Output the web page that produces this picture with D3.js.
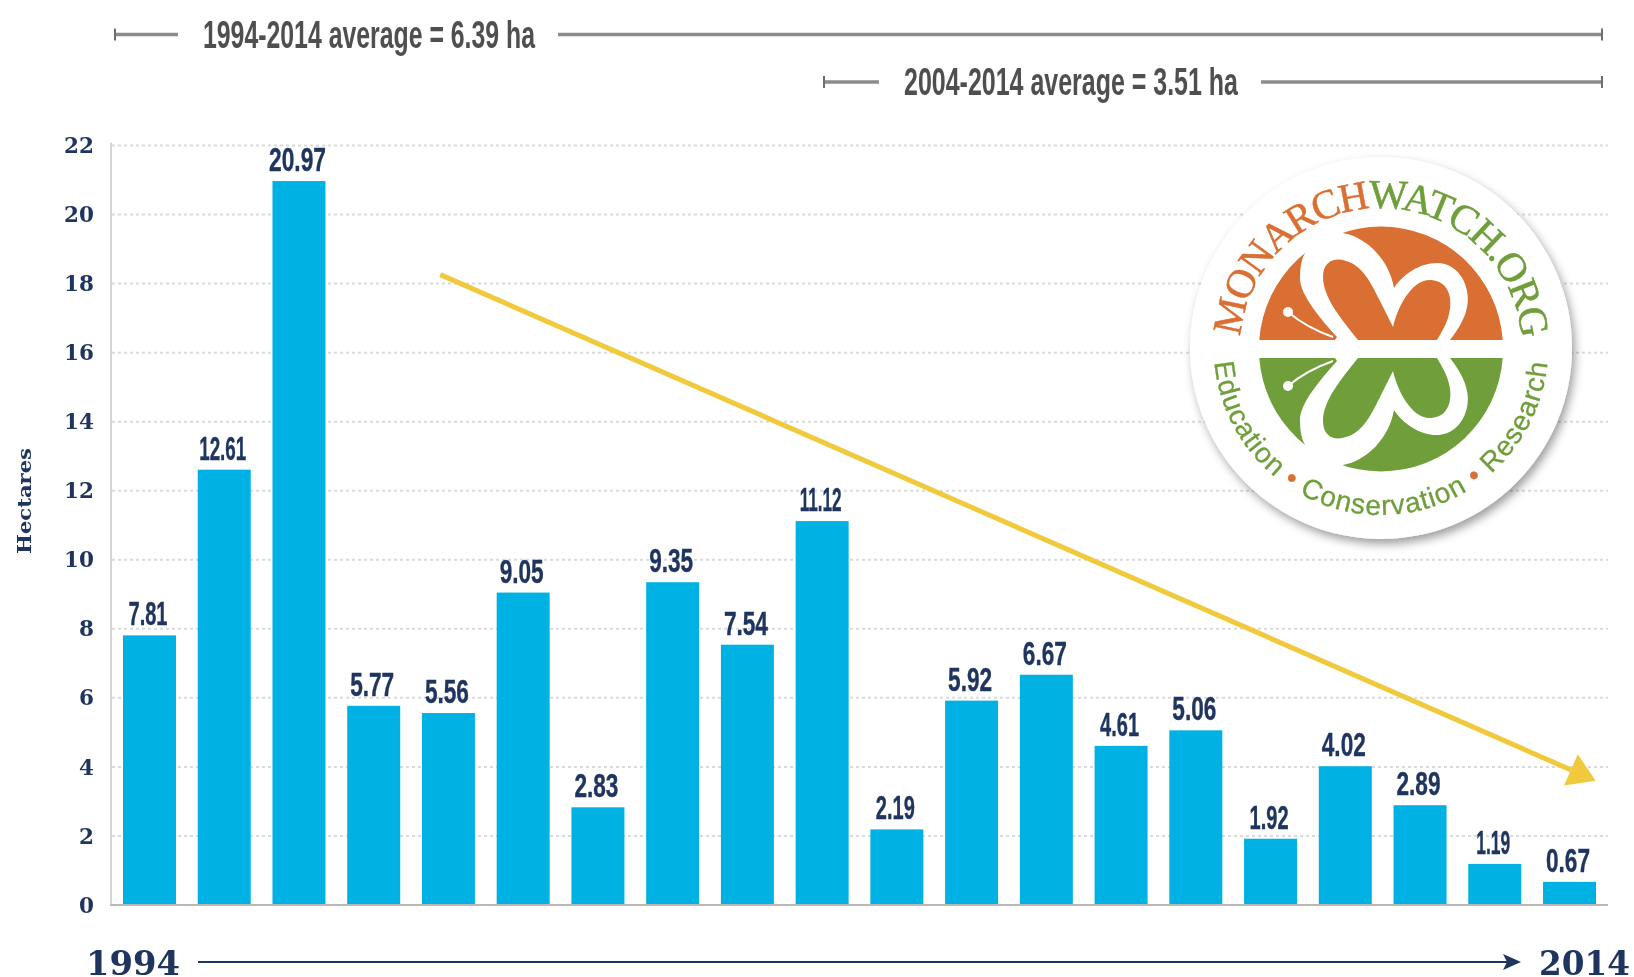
<!DOCTYPE html>
<html><head><meta charset="utf-8">
<script src="https://cdn.jsdelivr.net/npm/d3@7"></script>
<style>
html,body{margin:0;padding:0;background:#fff;overflow:hidden}
svg{display:block;filter:blur(0.5px)}
</style></head><body>
<svg id="chart" width="1634" height="977"></svg>
<script>
const seasons = ["1994","1995","1996","1997","1998","1999","2000","2001","2002","2003","2004","2005","2006","2007","2008","2009","2010","2011","2012","2013"];
const hectares = [7.81,12.61,20.97,5.77,5.56,9.05,2.83,9.35,7.54,11.12,2.19,5.92,6.67,4.61,5.06,1.92,4.02,2.89,1.19,0.67];
const valueLabels = ["7.81","12.61","20.97","5.77","5.56","9.05","2.83","9.35","7.54","11.12","2.19","5.92","6.67","4.61","5.06","1.92","4.02","2.89","1.19","0.67"];
const yTicks = [0,2,4,6,8,10,12,14,16,18,20,22];
const trendIndex = [3.89,19.35];
const trendValue = [18.26,3.6];
const longAverageText = "1994-2014 average = 6.39 ha";
const shortAverageText = "2004-2014 average = 3.51 ha";

const NAVY="#1f3560", BLUE="#00b2e3", GOLD="#f0c93c", GREY="#8b8b8b", TITLE="#4f4f4f", ORANGE="#d96f32", GREEN="#6f9e3a";
const NARROW="'Liberation Sans Narrow','Liberation Sans',sans-serif", SLAB="'DejaVu Serif',serif";

const svg=d3.select("#chart");
const x=d3.scaleBand().domain(seasons).range([123,1596]).paddingInner(0.291).paddingOuter(0);
const y=d3.scaleLinear().domain([0,22]).range([905,145.5]);
const xIdx=d3.scaleLinear().domain([0,19]).range([x(seasons[0])+x.bandwidth()/2,x(seasons[19])+x.bandwidth()/2]);

function squeeze(sel,fn){sel.each(function(d,i){const n=this.getComputedTextLength();this.setAttribute("textLength",fn(n,d,i));this.setAttribute("lengthAdjust","spacingAndGlyphs");});}
// the reference's display face has a narrow "1": width follows the digits in the label
function labelWidth(s){const ones=(s.match(/1/g)||[]).length, others=s.replace(/[.1]/g,"").length;return 13*others+5+8*ones;}

// grid
const axisG=svg.append("g").attr("transform","translate(94,0)")
  .call(d3.axisLeft(y).tickValues(yTicks).tickSize(0).tickPadding(0).tickFormat(d3.format("d")));
axisG.select(".domain").remove();
axisG.selectAll("text").attr("font-family",SLAB).attr("font-weight",700).attr("font-size",21.5).attr("fill",NAVY).attr("dy","0.33em");
svg.append("g").selectAll("line").data(yTicks.filter(d=>d>0)).join("line")
  .attr("x1",112).attr("x2",1608).attr("y1",d=>y(d)).attr("y2",d=>y(d))
  .attr("stroke","#dadada").attr("stroke-width",2).attr("stroke-dasharray","3 3");
svg.append("line").attr("x1",111).attr("x2",111).attr("y1",y(22)-3).attr("y2",y(0)).attr("stroke","#d6d6d6").attr("stroke-width",2);

// bars
svg.append("g").selectAll("rect").data(hectares).join("rect")
  .attr("x",(d,i)=>x(seasons[i])).attr("width",x.bandwidth())
  .attr("y",d=>y(d)).attr("height",d=>y(0)-y(d)).attr("fill",BLUE);
svg.append("line").attr("x1",110).attr("x2",1608).attr("y1",y(0)).attr("y2",y(0)).attr("stroke","#bdb8b4").attr("stroke-width",2);

// value labels
svg.append("g").selectAll("text").data(hectares).join("text")
  .attr("x",(d,i)=>x(seasons[i])+x.bandwidth()/2-1.5).attr("y",d=>y(d)-10)
  .attr("text-anchor","middle").attr("font-family",NARROW).attr("font-weight",700).attr("font-size",34).attr("fill",NAVY)
  .attr("stroke",NAVY).attr("stroke-width",0.4)
  .text((d,i)=>valueLabels[i]).call(squeeze,(n,d,i)=>labelWidth(valueLabels[i]));

// hectares axis title
svg.append("text").attr("transform","translate(31,501) rotate(-90)").attr("text-anchor","middle")
  .attr("font-family",SLAB).attr("font-weight",700).attr("font-size",18).attr("fill",NAVY).text("Hectares")
  .call(squeeze,()=>106);

// average brackets
function bracket(yy,x0,x1,tx0,tx1,label){
  const g=svg.append("g");
  [[x0,tx0-25],[tx1+23,x1]].forEach(([a,b])=>g.append("line").attr("x1",a).attr("x2",b).attr("y1",yy).attr("y2",yy).attr("stroke",GREY).attr("stroke-width",3.5));
  [x0,x1].forEach(a=>g.append("line").attr("x1",a).attr("x2",a).attr("y1",yy-6).attr("y2",yy+6).attr("stroke","#6f6f6f").attr("stroke-width",2));
  g.append("text").attr("x",tx0).attr("y",yy+13).attr("font-family",NARROW).attr("font-weight",700).attr("font-size",39).attr("fill",TITLE)
   .text(label).call(squeeze,()=>tx1-tx0);
}
bracket(34.5,115,1602,203,535,longAverageText);
bracket(82,824,1602,904,1238,shortAverageText);

// trend arrow
(function(){
  const p0=[xIdx(trendIndex[0]),y(trendValue[0])], p1=[xIdx(trendIndex[1]),y(trendValue[1])];
  const a=Math.atan2(p1[1]-p0[1],p1[0]-p0[0]), L=27, W=17;
  const back=[p1[0]-L*Math.cos(a),p1[1]-L*Math.sin(a)];
  const nx=-Math.sin(a), ny=Math.cos(a);
  svg.append("line").attr("x1",p0[0]).attr("y1",p0[1]).attr("x2",back[0]).attr("y2",back[1]).attr("stroke",GOLD).attr("stroke-width",5);
  svg.append("path").attr("fill",GOLD).attr("d",d3.line()([p1,[back[0]+nx*W,back[1]+ny*W],[back[0]-nx*W,back[1]-ny*W]])+"Z");
})();

// year timeline
svg.append("text").attr("x",86).attr("y",975).attr("font-family",SLAB).attr("font-weight",700).attr("font-size",33).attr("fill",NAVY).text("1994").call(squeeze,()=>94);
svg.append("text").attr("x",1539).attr("y",975).attr("font-family",SLAB).attr("font-weight",700).attr("font-size",33).attr("fill",NAVY).text("2014").call(squeeze,()=>91);
svg.append("line").attr("x1",198).attr("x2",1510).attr("y1",962).attr("y2",962).attr("stroke",NAVY).attr("stroke-width",2.2);
svg.append("path").attr("fill",NAVY).attr("d","M1521,962L1503,954L1507,962L1503,970Z");

// logo
const defs=svg.append("defs");
const f=defs.append("filter").attr("id","logoShadow").attr("x","-20%").attr("y","-20%").attr("width","140%").attr("height","140%");
f.append("feDropShadow").attr("dx",3).attr("dy",5).attr("stdDeviation",5).attr("flood-color","#000").attr("flood-opacity",0.38);
const R1=141,R2=167,a0=5*Math.PI/180;
const cx=r=>r*Math.cos(a0), cy=r=>r*Math.sin(a0);
defs.append("path").attr("id","arcTop").attr("d",`M${-cx(R1)},${-cy(R1)}A${R1},${R1} 0 0 1 ${cx(R1)},${-cy(R1)}`);
defs.append("path").attr("id","arcBot").attr("d",`M${-cx(R2)},${cy(R2)-1}A${R2},${R2} 0 0 0 ${cx(R2)},${cy(R2)-1}`);

const logo=svg.append("g").attr("transform","translate(1381,349)");
logo.append("circle").attr("cx",0).attr("cy",-1).attr("r",191).attr("fill","#fff").attr("filter","url(#logoShadow)");
function half(g,fill){
  g.append("path").attr("fill",fill).attr("d","M-121.7,-9A122,122 0 0 1 121.7,-9Z");
  g.append("path").attr("fill","#fff").attr("d","M-38,-116C-15,-112 8,-90 13,-61C22,-75 40,-87 58,-86C80,-84 90,-60 86,-42C84,-30 76,-18 69,-9L-46,-9L-44,-12C-60,-30 -82,-55 -81,-72C-81,-80 -80,-86 -78,-92L-60,-125L-38,-125Z");
  g.append("path").attr("fill",fill).attr("d","M-23,-9C-40,-30 -58,-52 -58,-72C-58,-88 -46,-92 -35,-88C-18,-84 -8,-62 -2,-50L12,-22C16,-40 30,-70 50,-69C68,-68 72,-50 68,-35C66,-25 60,-16 56,-9Z");
  g.append("circle").attr("cx",-93).attr("cy",-37).attr("r",5).attr("fill","#fff");
  g.append("path").attr("fill","none").attr("stroke","#fff").attr("stroke-width",2).attr("d","M-93,-37C-80,-26 -65,-18 -48,-12");
}
half(logo.append("g"),ORANGE);
half(logo.append("g").attr("transform","scale(1,-1)"),GREEN);

function fitArc(text,target,chars){
  const n=text.node().getComputedTextLength();
  text.attr("letter-spacing",(target-n)/chars);
}
const t1=logo.append("text").attr("font-family","'Liberation Serif',serif").attr("font-size",41).attr("stroke-width",0.5);
const tp1=t1.append("textPath").attr("href","#arcTop");
tp1.append("tspan").attr("fill",ORANGE).attr("stroke",ORANGE).text("MONARCH");
tp1.append("tspan").attr("fill",GREEN).attr("stroke",GREEN).text("WATCH.ORG");
fitArc(t1,R1*(Math.PI-2*a0),16);

const t2=logo.append("text").attr("font-family","'Liberation Sans',sans-serif").attr("font-size",28).attr("stroke-width",0.3);
const tp2=t2.append("textPath").attr("href","#arcBot");
tp2.append("tspan").attr("fill",GREEN).attr("stroke",GREEN).text("Education ");
tp2.append("tspan").attr("fill",ORANGE).attr("stroke",ORANGE).text("• ");
tp2.append("tspan").attr("fill",GREEN).attr("stroke",GREEN).text("Conservation ");
tp2.append("tspan").attr("fill",ORANGE).attr("stroke",ORANGE).text("• ");
tp2.append("tspan").attr("fill",GREEN).attr("stroke",GREEN).text("Research");
fitArc(t2,R2*(Math.PI-2*a0),35);
</script>
</body></html>
